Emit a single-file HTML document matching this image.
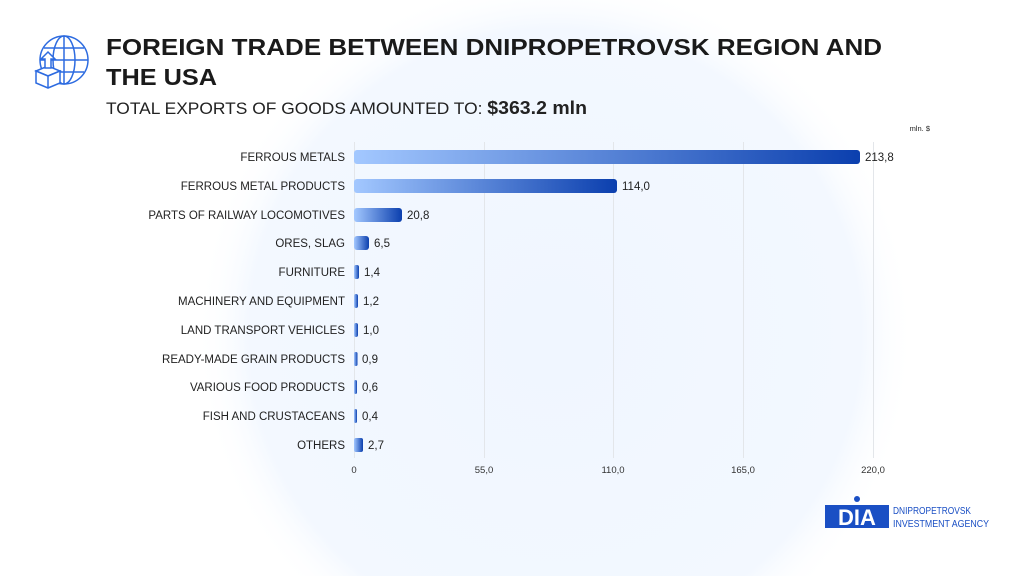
<!DOCTYPE html>
<html><head><meta charset="utf-8"><style>
html,body{margin:0;width:1024px;height:576px;overflow:hidden;background:#fff;font-family:"Liberation Sans",sans-serif}
svg{display:block}
</style></head><body>
<svg width="1024" height="576" xmlns="http://www.w3.org/2000/svg" font-family="Liberation Sans, sans-serif">
<defs>
<radialGradient id="bg" cx="0.5" cy="0.5" r="0.5">
<stop offset="0" stop-color="#f0f6ff"/><stop offset="0.85" stop-color="#f3f8ff"/><stop offset="1" stop-color="#ffffff" stop-opacity="0"/>
</radialGradient>
<linearGradient id="g" x1="0" x2="1" y1="0" y2="0">
<stop offset="0" stop-color="#a3c8ff"/><stop offset="1" stop-color="#0b3fae"/>
</linearGradient>
</defs>
<circle cx="555" cy="335" r="360" fill="url(#bg)"/>
<!-- icon -->
<g fill="none" stroke="#2d6be0" stroke-width="1.5">
<circle cx="64" cy="60" r="24"/>
<ellipse cx="64" cy="60" rx="11" ry="24"/>
<line x1="40" y1="60" x2="88" y2="60"/><line x1="44" y1="48" x2="84" y2="48"/><line x1="44" y1="72" x2="84" y2="72"/><line x1="64" y1="36" x2="64" y2="84"/>
<path d="M36 71 L48 66 L60 71 L48 76 Z" fill="#fff"/>
<path d="M36 71 V83 L48 88 L60 83 V71 L48 76 L36 71 Z M48 76 V88" fill="#fff"/>
<path d="M45 68 V59 H41 L48 52 L55 59 H51 V68 Z" fill="#fff"/>
</g>
<text x="106" y="55" font-size="23.5" font-weight="bold" fill="#1a1a1a" textLength="776" lengthAdjust="spacingAndGlyphs">FOREIGN TRADE BETWEEN DNIPROPETROVSK REGION AND</text>
<text x="106" y="85" font-size="23.5" font-weight="bold" fill="#1a1a1a" textLength="111" lengthAdjust="spacingAndGlyphs">THE USA</text>
<text x="106" y="114" font-size="16.5" fill="#222" textLength="481" lengthAdjust="spacingAndGlyphs">TOTAL EXPORTS OF GOODS AMOUNTED TO: <tspan font-weight="bold" font-size="18.5">$363.2 mln</tspan></text>
<text x="930" y="131" font-size="7.5" fill="#222" text-anchor="end">mln. $</text>
<g stroke="#e3e6ea" stroke-width="1">
<line x1="354.5" y1="142" x2="354.5" y2="458"/><line x1="484.5" y1="142" x2="484.5" y2="458"/><line x1="613.5" y1="142" x2="613.5" y2="458"/><line x1="743.5" y1="142" x2="743.5" y2="458"/><line x1="873.5" y1="142" x2="873.5" y2="458"/>
</g>
<g font-size="9.5" fill="#333" text-anchor="middle">
<text x="354" y="473">0</text><text x="484" y="473">55,0</text><text x="613" y="473">110,0</text><text x="743" y="473">165,0</text><text x="873" y="473">220,0</text>
</g>
<g font-size="11.5" fill="#222">
<g text-anchor="end">
<text x="345" y="161">FERROUS METALS</text>
<text x="345" y="190">FERROUS METAL PRODUCTS</text>
<text x="345" y="219">PARTS OF RAILWAY LOCOMOTIVES</text>
<text x="345" y="247">ORES, SLAG</text>
<text x="345" y="276">FURNITURE</text>
<text x="345" y="305">MACHINERY AND EQUIPMENT</text>
<text x="345" y="334">LAND TRANSPORT VEHICLES</text>
<text x="345" y="363">READY-MADE GRAIN PRODUCTS</text>
<text x="345" y="391">VARIOUS FOOD PRODUCTS</text>
<text x="345" y="420">FISH AND CRUSTACEANS</text>
<text x="345" y="449">OTHERS</text>
</g>
<rect x="354" y="150" width="506" height="14" rx="3" fill="url(#g)"/><text x="865" y="161">213,8</text>
<rect x="354" y="179" width="263" height="14" rx="3" fill="url(#g)"/><text x="622" y="190">114,0</text>
<rect x="354" y="208" width="48" height="14" rx="3" fill="url(#g)"/><text x="407" y="219">20,8</text>
<rect x="354" y="236" width="15" height="14" rx="3" fill="url(#g)"/><text x="374" y="247">6,5</text>
<rect x="354" y="265" width="5" height="14" rx="2" fill="url(#g)"/><text x="364" y="276">1,4</text>
<rect x="354" y="294" width="4" height="14" rx="2" fill="url(#g)"/><text x="363" y="305">1,2</text>
<rect x="354" y="323" width="4" height="14" rx="2" fill="url(#g)"/><text x="363" y="334">1,0</text>
<rect x="354" y="352" width="3.5" height="14" rx="1.5" fill="url(#g)"/><text x="362" y="363">0,9</text>
<rect x="354" y="380" width="3" height="14" rx="1.5" fill="url(#g)"/><text x="362" y="391">0,6</text>
<rect x="354" y="409" width="3" height="14" rx="1.5" fill="url(#g)"/><text x="362" y="420">0,4</text>
<rect x="354" y="438" width="9" height="14" rx="2" fill="url(#g)"/><text x="368" y="449">2,7</text>
</g>
<!-- logo -->
<rect x="825" y="505" width="64" height="23" fill="#1a4fc4"/>
<text x="857" y="525" font-size="22" font-weight="bold" fill="#fff" text-anchor="middle">DIA</text>
<circle cx="857" cy="499" r="3" fill="#1a4fc4"/>
<text x="893" y="514" font-size="10" fill="#1a4fc4" textLength="78" lengthAdjust="spacingAndGlyphs">DNIPROPETROVSK</text>
<text x="893" y="527" font-size="10" fill="#1a4fc4" textLength="96" lengthAdjust="spacingAndGlyphs">INVESTMENT AGENCY</text>
</svg>
</body></html>
